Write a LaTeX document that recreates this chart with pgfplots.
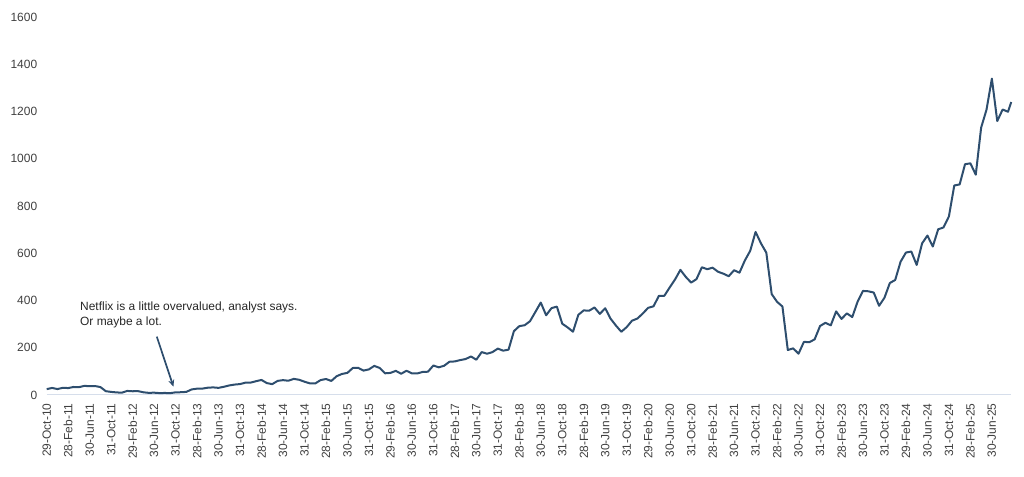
\documentclass[border=0pt]{standalone}
\usepackage{fontspec}
\setmainfont{Liberation Sans}
\usepackage{pgfplots}
\pgfplotsset{compat=1.18}
\usetikzlibrary{arrows.meta}
\definecolor{nflx}{RGB}{46,78,110}
\definecolor{axl}{RGB}{214,222,235}
\definecolor{lbl}{RGB}{64,64,64}
\definecolor{ann}{RGB}{38,38,38}
\begin{document}
\begin{tikzpicture}
\useasboundingbox (0,0) rectangle (1024bp,477bp);
\begin{axis}[
  at={(46.7bp,82bp)}, anchor=south west,
  scale only axis, width=964.5bp, height=378bp,
  xmin=0, xmax=179.6, ymin=0, ymax=1600,
  axis line style={draw=none},
  tick style={draw=none},
  clip=false,
  ytick={0,200,...,1600},
  /pgf/number format/assume math mode=true,
  /pgf/number format/1000 sep={},
  yticklabel shift=6bp,
  xticklabel shift=5bp,
  yticklabel style={font=\fontsize{12}{12}\selectfont, text=lbl},
  xtick={0,4,...,176},
  xticklabels={29-Oct-10,28-Feb-11,30-Jun-11,31-Oct-11,29-Feb-12,30-Jun-12,31-Oct-12,28-Feb-13,30-Jun-13,31-Oct-13,28-Feb-14,30-Jun-14,31-Oct-14,28-Feb-15,30-Jun-15,31-Oct-15,29-Feb-16,30-Jun-16,31-Oct-16,28-Feb-17,30-Jun-17,31-Oct-17,28-Feb-18,30-Jun-18,31-Oct-18,28-Feb-19,30-Jun-19,31-Oct-19,29-Feb-20,30-Jun-20,31-Oct-20,28-Feb-21,30-Jun-21,31-Oct-21,28-Feb-22,30-Jun-22,31-Oct-22,28-Feb-23,30-Jun-23,31-Oct-23,29-Feb-24,30-Jun-24,31-Oct-24,28-Feb-25,30-Jun-25},
  xticklabel style={rotate=90, anchor=east, font=\fontsize{12}{12}\selectfont, text=lbl},
]
\draw[axl, line width=1bp] (axis cs:0,0) -- (axis cs:179.6,0);
\addplot[nflx, line width=2bp, line join=round, no marks] coordinates {
(0,24.8)(1,29.9)(2,25.1)(3,30.4)(4,29.4)(5,33.9)(6,33.2)(7,38.5)(8,37.5)(9,37.9)
(10,33.6)(11,16.2)(12,13.1)(13,10.9)(14,9.9)(15,17.2)(16,15.8)(17,16.4)(18,11.5)(19,9.1)
(20,9.8)(21,8.1)(22,8.6)(23,7.8)(24,11.3)(25,11.7)(26,13.2)(27,23.6)(28,26.9)(29,27.1)
(30,30.9)(31,32.2)(32,30.2)(33,34.9)(34,40.5)(35,44.2)(36,46.2)(37,52.2)(38,52.6)(39,58.5)
(40,63.7)(41,50.3)(42,46.0)(43,59.7)(44,62.9)(45,60.4)(46,68.2)(47,64.5)(48,56.3)(49,49.3)
(50,48.8)(51,63.1)(52,67.7)(53,59.5)(54,79.7)(55,89.2)(56,93.8)(57,114.3)(58,115.0)(59,103.3)
(60,108.4)(61,123.3)(62,114.4)(63,91.8)(64,93.4)(65,102.2)(66,90.0)(67,102.6)(68,91.5)(69,91.3)
(70,97.5)(71,98.6)(72,124.9)(73,117.0)(74,123.8)(75,140.7)(76,142.1)(77,147.8)(78,152.2)(79,163.1)
(80,149.4)(81,181.7)(82,174.7)(83,181.4)(84,196.4)(85,187.6)(86,192.0)(87,270.3)(88,291.4)(89,295.4)
(90,312.5)(91,351.6)(92,391.4)(93,337.5)(94,367.7)(95,374.1)(96,301.8)(97,286.1)(98,267.7)(99,339.5)
(100,358.1)(101,356.6)(102,370.5)(103,343.3)(104,367.3)(105,323.0)(106,293.8)(107,267.6)(108,287.4)(109,314.7)
(110,323.6)(111,345.1)(112,369.0)(113,375.5)(114,419.9)(115,419.7)(116,455.0)(117,488.9)(118,529.6)(119,500.0)
(120,475.7)(121,490.7)(122,540.7)(123,532.4)(124,538.9)(125,521.7)(126,513.5)(127,502.8)(128,528.2)(129,517.6)
(130,569.2)(131,610.3)(132,690.3)(133,642.0)(134,602.4)(135,427.1)(136,394.5)(137,374.6)(138,190.4)(139,197.4)
(140,174.9)(141,224.9)(142,223.6)(143,235.4)(144,291.9)(145,305.5)(146,294.9)(147,353.9)(148,322.1)(149,345.5)
(150,329.9)(151,395.2)(152,440.5)(153,439.0)(154,433.7)(155,377.6)(156,411.7)(157,474.0)(158,486.9)(159,564.1)
(160,602.9)(161,607.3)(162,550.6)(163,641.6)(164,674.9)(165,628.4)(166,701.4)(167,709.3)(168,756.0)(169,886.8)
(170,891.3)(171,976.8)(172,980.6)(173,932.5)(174,1131.7)(175,1207.6)(176,1339.1)(177,1159.4)(178,1208.3)(179,1198.9)
(179.6,1240)
};
\node[anchor=north west, inner sep=0pt, align=left, text=ann, font=\fontsize{12}{15}\selectfont] at (axis cs:6.2,394) {Netflix is a little overvalued, analyst says.\\Or maybe a lot.};
\draw[nflx, line width=1.7bp, -{Stealth[length=7bp,width=6bp]}] (axis cs:20.5,247) -- (axis cs:23.6,35);
\end{axis}
\end{tikzpicture}
\end{document}
